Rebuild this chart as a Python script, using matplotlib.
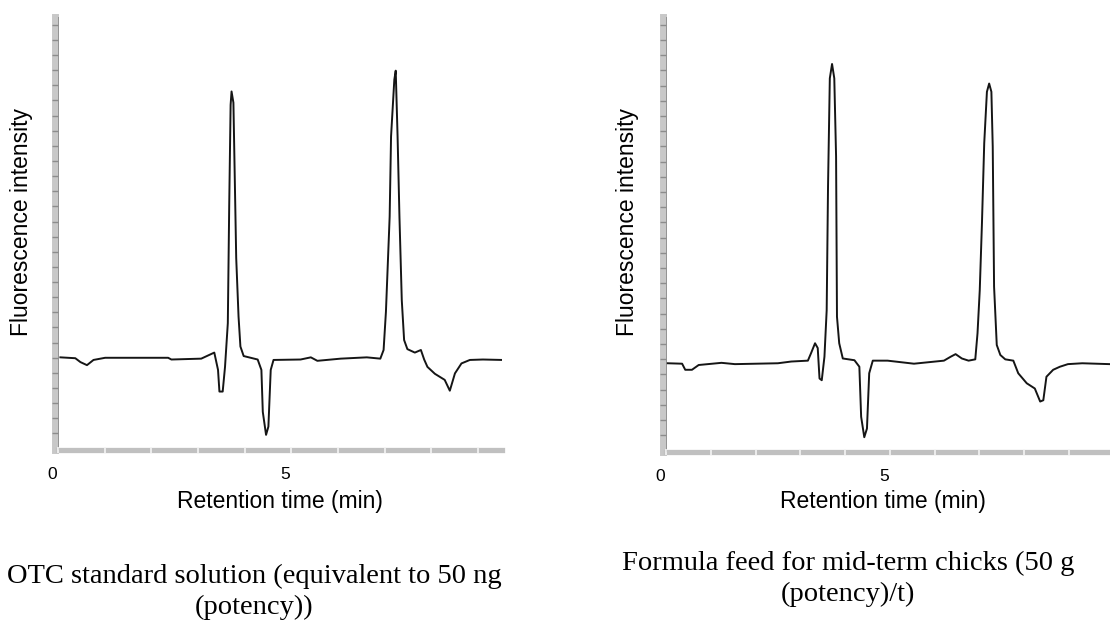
"""
    Two fluorescence HPLC chromatograms side by side (OTC standard vs. chick feed).
"""
import numpy as np
import matplotlib
matplotlib.use("Agg")
import matplotlib.pyplot as plt
from matplotlib.transforms import ScaledTranslation, blended_transform_factory

plt.rcParams['font.family'] = ["Liberation Sans", "DejaVu Sans"]

## data (retention time in min, signal in arbitrary units 0-100)
std_time = [0.05, 0.37, 0.48, 0.62, 0.76, 1.01, 2.36, 2.43, 3.07, 3.35, 3.43, 3.46, 3.53, 3.58, 3.64,
            3.67, 3.70, 3.72, 3.76, 3.82, 3.87, 3.91, 3.98, 4.28, 4.36, 4.39, 4.46, 4.51, 4.56, 4.62,
            5.20, 5.42, 5.56, 6.06, 6.62, 6.91, 6.98, 7.03, 7.11, 7.14, 7.21, 7.24, 7.28, 7.32, 7.37,
            7.42, 7.49, 7.65, 7.78, 7.85, 7.92, 8.08, 8.29, 8.40, 8.51, 8.65, 8.83, 9.11, 9.52]
std_signal = [21.4, 21.2, 20.3, 19.6, 20.8, 21.3, 21.3, 20.9, 21.1, 22.5, 18.5, 13.5, 13.5, 19.2, 29.3,
              56.6, 79.7, 82.8, 80.2, 44.3, 30.8, 23.9, 21.7, 20.9, 18.5, 8.8, 3.5, 5.4, 18.5, 20.8,
              20.9, 21.4, 20.6, 21.1, 21.4, 21.1, 23.1, 31.9, 53.9, 72.4, 85.5, 87.6, 72.4, 53.9, 34.6,
              25.4, 23.3, 22.5, 23.1, 20.9, 19.2, 17.6, 16.2, 13.7, 17.7, 20.0, 20.8, 20.9, 20.8]

feed_time = [0.04, 0.36, 0.43, 0.58, 0.73, 1.24, 1.54, 2.50, 2.80, 3.17, 3.24, 3.33, 3.39, 3.43, 3.48,
             3.54, 3.59, 3.62, 3.66, 3.71, 3.76, 3.80, 3.82, 3.87, 3.95, 4.21, 4.32, 4.36, 4.43, 4.49,
             4.54, 4.62, 4.95, 5.54, 6.21, 6.36, 6.47, 6.61, 6.76, 6.91, 6.96, 7.01, 7.06, 7.11, 7.17,
             7.22, 7.27, 7.30, 7.33, 7.39, 7.47, 7.58, 7.76, 7.87, 8.06, 8.24, 8.36, 8.43, 8.50, 8.65,
             8.80, 8.98, 9.30, 9.91]
feed_signal = [20.4, 20.3, 18.9, 18.9, 20.0, 20.5, 20.2, 20.4, 20.8, 21.0, 22.7, 25.0, 23.9, 16.9, 16.5,
               21.9, 32.6, 61.0, 85.9, 89.2, 85.9, 67.9, 31.1, 25.0, 21.5, 21.1, 19.6, 8.1, 3.4, 5.4,
               18.1, 21.0, 21.0, 20.3, 21.0, 21.9, 22.5, 21.5, 21.0, 21.3, 27.3, 37.2, 52.9, 71.0, 82.8,
               84.7, 82.8, 70.2, 38.0, 24.6, 22.3, 21.3, 21.0, 18.1, 15.8, 14.6, 11.6, 11.9, 17.3, 18.9,
               19.6, 20.2, 20.4, 20.2]

x_ticks = [0, 1, 2, 3, 4, 5, 6, 7, 8, 9]
x_label_ticks = [0, 5]

captions = [["OTC standard solution (equivalent to 50 ng", "(potency))"],
            ["Formula feed for mid-term chicks (50 g", "(potency)/t)"]]

serif = ["Liberation Serif", "DejaVu Serif"]

fig = plt.figure(figsize=(11.1, 6.22), dpi=100)
ax1 = fig.add_axes([0.0523, 0.2765, 0.400, 0.6962])
ax2 = fig.add_axes([0.600, 0.2733, 0.400, 0.6994])

panels = [(ax1, std_time, std_signal, 9.52), (ax2, feed_time, feed_signal, 9.92)]
for ax, t, s, tmax in panels:
    ax.plot(t, s, color="#151515", lw=1.4, zorder=3)
    ax.set_xlim(0, tmax)
    ax.set_ylim(0, 100)

    # instrument-style grey rulers on the left and bottom
    for side in ["top", "right"]:
        ax.spines[side].set_visible(False)
    ax.spines["left"].set_color("#c8c8c8")
    ax.spines["left"].set_linewidth(5)
    ax.spines["left"].set_position(("outward", 2.5))
    ax.spines["bottom"].set_color("#c0c0c0")
    ax.spines["bottom"].set_linewidth(3.8)
    for sp in ax.spines.values():
        sp.set_zorder(1)
    ax.xaxis.set_zorder(2)
    ax.yaxis.set_zorder(2)
    ax.axvline(0, color="#8a8a8a", lw=1.2, zorder=2)

    ax.set_yticks(np.arange(3.85, 100, 3.494))
    ax.set_yticklabels([])
    ax.tick_params(axis="y", direction="inout", length=5, width=1.0, color="#8c8c8c")

    ax.set_xticks(x_ticks)
    ax.set_xticklabels([])
    ax.tick_params(axis="x", direction="inout", length=4, width=1.2, color="#f4f4f4")

    # tick numbers sit a little left of their ticks, as in the instrument printout
    trans = blended_transform_factory(ax.transData, ax.transAxes) + \
        ScaledTranslation(-6 / 100, -24 / 100, fig.dpi_scale_trans)
    for xv in x_label_ticks:
        ax.text(xv, 0, str(xv), transform=trans, ha="center", va="center", fontsize=12.5,
                clip_on=False)

## axis labels and captions as figure text
fig.text(0.0198, 0.643, "Fluorescence intensity", rotation=90, ha="center", va="center", fontsize=16.5)
fig.text(0.565, 0.643, "Fluorescence intensity", rotation=90, ha="center", va="center", fontsize=16.5)
fig.text(0.252, 0.193, "Retention time (min)", ha="center", va="center", fontsize=16.5)
fig.text(0.795, 0.193, "Retention time (min)", ha="center", va="center", fontsize=16.5)

fig.text(0.229, 0.074, captions[0][0], ha="center", va="center", fontsize=20.5, family=serif)
fig.text(0.229, 0.024, captions[0][1], ha="center", va="center", fontsize=20.5, family=serif)
fig.text(0.764, 0.094, captions[1][0], ha="center", va="center", fontsize=20.5, family=serif)
fig.text(0.764, 0.044, captions[1][1], ha="center", va="center", fontsize=20.5, family=serif)

fig.savefig("out.png", dpi=100)
